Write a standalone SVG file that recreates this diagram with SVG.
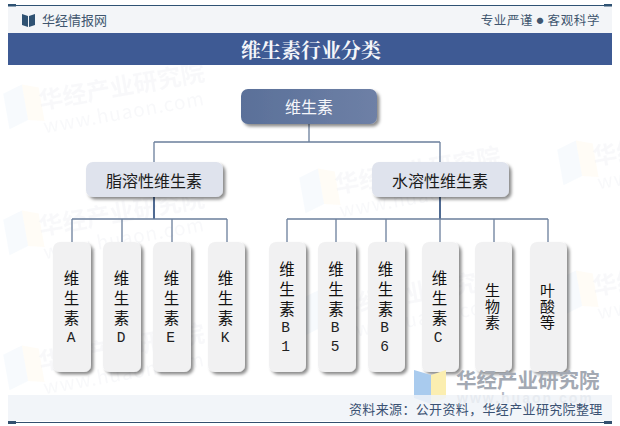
<svg xmlns="http://www.w3.org/2000/svg" width="620" height="426" viewBox="0 0 620 426">
<defs>
<linearGradient id="rootFill" x1="0" y1="0" x2="1" y2="0"><stop offset="0" stop-color="#5a7099"/><stop offset="1" stop-color="#6e80a6"/></linearGradient>
<filter id="sh" x="-30%" y="-30%" width="170%" height="170%"><feDropShadow dx="2.500" dy="2.500" stdDeviation="1.500" flood-color="#000" flood-opacity="0.45"/></filter>
<g id="wm"><g transform="rotate(-10)">
<path d="M-34 4 L-14 -2 L-14 34 L-34 40Z" fill="#dce8f6" opacity="0.22"/>
<path d="M-14 -2 L2 4 L2 38 L-14 34Z" fill="#fdf3d5" opacity="0.22"/>
<text x="0" y="26" class="wmt">华经产业研究院</text>
<text x="0" y="50" class="wmu">www.huaon.com</text></g></g>
</defs>
<style>
text{font-family:"Noto Sans CJK SC","Liberation Sans",sans-serif}
.wmt{font-size:24px;font-weight:700;fill:#eef0f4;opacity:.4}
.wmu{font-size:19px;fill:#eef0f4;opacity:.4;letter-spacing:1px}
.conn{fill:none;stroke:#6b7f9c;stroke-width:1.3}
.stem{fill:none;stroke:#4f6a92;stroke-width:2}
.l1{fill:#dfe3ed;filter:url(#sh)}
.leaf{fill:#f1f1f2;filter:url(#sh)}
.lt{font-size:16px;fill:#1b1b1b;text-anchor:middle}
.vt{font-size:15.5px;fill:#111;text-anchor:middle}
.vl{font-size:14.500px;fill:#222;text-anchor:middle;font-family:"Liberation Mono",monospace}
</style>
<rect width="620" height="426" fill="#fff"/>
<g id="watermarks">
<use href="#wm" x="36" y="84"/><use href="#wm" x="36" y="210"/><use href="#wm" x="36" y="345"/>
<use href="#wm" x="332" y="168"/><use href="#wm" x="332" y="290"/><use href="#wm" x="590" y="140"/><use href="#wm" x="590" y="270"/>
</g>
<g id="header">
<rect x="8" y="6" width="604" height="27" fill="#f3f5f8"/>
<path d="M8 5.500H612" stroke="#2f5273" stroke-width="1"/>
<rect x="8" y="4" width="8" height="2.500" fill="#2f5273"/><rect x="604" y="4" width="8" height="2.500" fill="#2f5273"/>
<path d="M22 14 L28 16 V27 L22 25Z M35 14 L29 16 V27 L35 25Z" fill="#2f5273"/>
<text x="42" y="25" font-size="13" fill="#40566f">华经情报网</text>
<text x="600" y="24.500" font-size="12.500" fill="#40566f" text-anchor="end" letter-spacing="0.600">专业严谨 <tspan font-size="7" dy="-1.500">●</tspan><tspan dy="1.500"> 客观科学</tspan></text>
<rect x="8" y="33" width="604" height="32" fill="#3e5a94"/>
<text x="311" y="58" font-size="20" font-weight="700" fill="#f4f6fa" text-anchor="middle" style="font-family:'Noto Serif CJK SC','Noto Sans CJK SC',sans-serif">维生素行业分类</text>
</g>
<g id="connectors">
<path class="conn" d="M309 124V142M154 142H440M154 142V162M440 142V162"/>
<path class="stem" d="M154 197V219M440 197V219"/>
<path class="conn" d="M72 219H227M72 219V242M122 219V242M172 219V242M227 219V242"/>
<path class="conn" d="M287 219H548M287 219V242M336 219V242M386 219V242M440 219V242M494 219V242M548 219V242"/>
</g>
<g id="root"><rect x="241" y="89" width="136" height="35" rx="7" fill="url(#rootFill)" filter="url(#sh)"/><text x="309" y="113" class="lt" style="fill:#f5f6fa">维生素</text></g>
<g id="fat"><rect class="l1" x="86" y="162" width="137" height="35" rx="7"/><text x="154" y="186.500" class="lt">脂溶性维生素</text></g>
<g id="water"><rect class="l1" x="372" y="162" width="137" height="35" rx="7"/><text x="440" y="186.500" class="lt">水溶性维生素</text></g>
<g id="va"><rect class="leaf" x="53" y="242" width="38" height="130" rx="7"/><text class="vt"><tspan x="71.500" y="284">维</tspan><tspan x="71.500" y="304">生</tspan><tspan x="71.500" y="324">素</tspan></text><text x="71" y="342" class="vl">A</text></g>
<g id="vd"><rect class="leaf" x="103" y="242" width="38" height="130" rx="7"/><text class="vt"><tspan x="121.500" y="284">维</tspan><tspan x="121.500" y="304">生</tspan><tspan x="121.500" y="324">素</tspan></text><text x="121" y="342" class="vl">D</text></g>
<g id="ve"><rect class="leaf" x="153" y="242" width="38" height="130" rx="7"/><text class="vt"><tspan x="171.500" y="284">维</tspan><tspan x="171.500" y="304">生</tspan><tspan x="171.500" y="324">素</tspan></text><text x="170.500" y="342" class="vl">E</text></g>
<g id="vk"><rect class="leaf" x="208" y="242" width="37" height="130" rx="7"/><text class="vt"><tspan x="225.500" y="284">维</tspan><tspan x="225.500" y="304">生</tspan><tspan x="225.500" y="324">素</tspan></text><text x="225" y="342" class="vl">K</text></g>
<g id="vb1"><rect class="leaf" x="269" y="242" width="37" height="130" rx="7"/><text class="vt"><tspan x="287" y="275">维</tspan><tspan x="287" y="295">生</tspan><tspan x="287" y="315">素</tspan></text><text x="285.500" y="332" class="vl">B</text><text x="285.500" y="351" class="vl">1</text></g>
<g id="vb5"><rect class="leaf" x="318" y="242" width="38" height="130" rx="7"/><text class="vt"><tspan x="336" y="275">维</tspan><tspan x="336" y="295">生</tspan><tspan x="336" y="315">素</tspan></text><text x="335" y="332" class="vl">B</text><text x="335" y="351" class="vl">5</text></g>
<g id="vb6"><rect class="leaf" x="368" y="242" width="37" height="130" rx="7"/><text class="vt"><tspan x="385.500" y="275">维</tspan><tspan x="385.500" y="295">生</tspan><tspan x="385.500" y="315">素</tspan></text><text x="384.500" y="332" class="vl">B</text><text x="384.500" y="351" class="vl">6</text></g>
<g id="vc"><rect class="leaf" x="422" y="242" width="37" height="130" rx="7"/><text class="vt"><tspan x="439.500" y="284">维</tspan><tspan x="439.500" y="304">生</tspan><tspan x="439.500" y="324">素</tspan></text><text x="438" y="342" class="vl">C</text></g>
<g id="biotin"><rect class="leaf" x="475" y="242" width="37" height="130" rx="7"/><text class="vt" style="font-size:15px"><tspan x="492.500" y="296">生</tspan><tspan x="492.500" y="312">物</tspan><tspan x="492.500" y="328">素</tspan></text></g>
<g id="folic"><rect class="leaf" x="530" y="242" width="37" height="130" rx="7"/><text class="vt" style="font-size:15px"><tspan x="547.500" y="296">叶</tspan><tspan x="547.500" y="312">酸</tspan><tspan x="547.500" y="328">等</tspan></text></g>
<g id="footer">
<path d="M414 370 L431 375 V404 L414 398Z" fill="#a9cbee"/>
<path d="M431 375 L446 370 V398 L431 404Z" fill="#fbeeb0"/>
<text x="456" y="388" font-size="20.500" font-weight="700" fill="#a3a9b3">华经产业研究院</text>
<text x="457" y="403" font-size="14" font-weight="700" fill="#b4bac4" letter-spacing="2" style="font-family:'Liberation Sans',sans-serif">www.huaon.com</text>
<rect x="8" y="395" width="604" height="26" fill="#f0f3f8" opacity="0.85"/>
<text x="349" y="414" font-size="13" fill="#3b5273" letter-spacing="0.350">资料来源：公开资料，华经产业研究院整理</text>
<path d="M8 422.500H612" stroke="#33506f" stroke-width="1"/>
<rect x="8" y="421" width="8" height="3" fill="#33506f"/><rect x="604" y="421" width="8" height="3" fill="#33506f"/>
</g>
</svg>
